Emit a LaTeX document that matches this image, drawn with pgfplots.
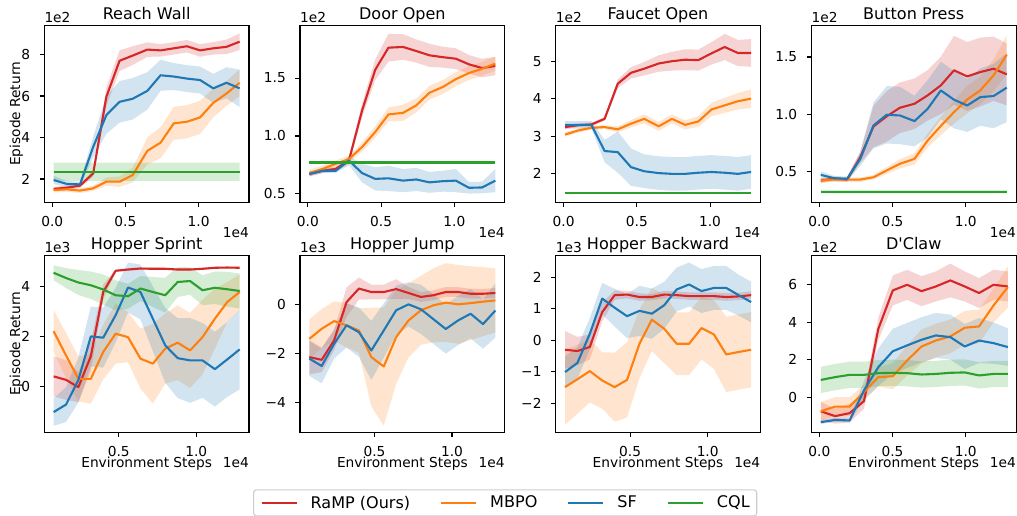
\documentclass[border=0pt]{standalone}
\usepackage{pgfplots}
\pgfplotsset{compat=1.18}
\usepackage{pgfplotstable}
\usepgfplotslibrary{fillbetween}
\usepackage{fontspec}
\setmainfont{DejaVu Sans}
\definecolor{tred}{HTML}{D62728}
\definecolor{torange}{HTML}{FF7F0E}
\definecolor{tblue}{HTML}{1F77B4}
\definecolor{tgreen}{HTML}{2CA02C}
\newcommand{\tickfont}{\fontsize{13.8}{16}\selectfont}
\newcommand{\titlefont}{\fontsize{16.1}{19}\selectfont}
\newcommand{\legfont}{\fontsize{16.1}{19}\selectfont}

\pgfplotstableread{
x r rs o os b bs g gs
0.01 1.52 0.10 1.47 0.12 1.95 0.20 2.35 0.44
0.10 1.58 0.10 1.50 0.12 1.76 0.15 2.35 0.44
0.19 1.68 0.10 1.44 0.12 1.74 0.12 2.35 0.44
0.28 2.27 0.15 1.55 0.12 3.55 0.50 2.35 0.44
0.37 5.97 0.45 1.87 0.20 5.08 0.90 2.35 0.44
0.46 7.70 0.50 1.87 0.25 5.72 1.00 2.35 0.44
0.55 7.95 0.45 2.19 0.35 5.87 1.00 2.35 0.44
0.65 8.24 0.35 3.36 0.65 6.25 0.90 2.35 0.44
0.74 8.20 0.30 3.75 0.75 7.00 0.75 2.35 0.44
0.83 8.30 0.30 4.68 0.80 6.94 0.65 2.35 0.44
0.92 8.40 0.30 4.76 0.80 6.84 0.65 2.35 0.44
1.01 8.20 0.30 4.97 0.80 6.77 0.65 2.35 0.44
1.10 8.30 0.30 5.67 0.70 6.37 0.70 2.35 0.44
1.19 8.37 0.35 6.12 0.60 6.64 0.75 2.35 0.44
1.28 8.62 0.40 6.64 0.65 6.37 0.90 2.35 0.44
}\tRW

\pgfplotstableread{
x r rs o os b bs g gs
0.01 0.673 0.02 0.680 0.03 0.673 0.02 0.771 0.012
0.10 0.700 0.02 0.716 0.03 0.700 0.02 0.771 0.012
0.19 0.716 0.02 0.760 0.03 0.700 0.02 0.771 0.012
0.28 0.788 0.03 0.800 0.03 0.788 0.04 0.771 0.012
0.37 1.220 0.06 0.905 0.04 0.680 0.08 0.771 0.012
0.46 1.572 0.09 1.035 0.05 0.630 0.10 0.771 0.012
0.55 1.762 0.12 1.186 0.06 0.635 0.11 0.771 0.012
0.65 1.768 0.11 1.200 0.07 0.615 0.10 0.771 0.012
0.74 1.733 0.10 1.264 0.06 0.625 0.10 0.771 0.012
0.83 1.696 0.10 1.373 0.06 0.600 0.09 0.771 0.012
0.92 1.680 0.09 1.422 0.06 0.610 0.09 0.771 0.012
1.01 1.667 0.09 1.490 0.06 0.615 0.10 0.771 0.012
1.10 1.618 0.08 1.543 0.06 0.553 0.05 0.771 0.012
1.19 1.586 0.08 1.580 0.06 0.556 0.05 0.771 0.012
1.28 1.604 0.08 1.624 0.06 0.615 0.10 0.771 0.012
}\tDO

\pgfplotstableread{
x r rs o os b bs g gs
0.01 3.24 0.05 3.04 0.06 3.30 0.10 1.48 0.02
0.10 3.29 0.05 3.15 0.05 3.30 0.10 1.48 0.02
0.19 3.31 0.05 3.22 0.05 3.30 0.10 1.48 0.02
0.28 3.46 0.05 3.24 0.05 2.60 0.30 1.48 0.02
0.37 4.40 0.12 3.18 0.08 2.57 0.55 1.48 0.02
0.46 4.69 0.15 3.33 0.10 2.17 0.50 1.48 0.02
0.55 4.80 0.18 3.46 0.12 2.06 0.45 1.48 0.02
0.65 4.94 0.22 3.26 0.12 2.01 0.45 1.48 0.02
0.74 5.00 0.25 3.46 0.12 1.99 0.45 1.48 0.02
0.83 5.04 0.28 3.30 0.12 1.99 0.45 1.48 0.02
0.92 5.03 0.28 3.39 0.14 2.02 0.45 1.48 0.02
1.01 5.21 0.30 3.71 0.18 2.04 0.45 1.48 0.02
1.10 5.38 0.35 3.82 0.20 2.02 0.45 1.48 0.02
1.19 5.22 0.35 3.93 0.22 1.99 0.45 1.48 0.02
1.28 5.22 0.37 4.00 0.25 2.04 0.45 1.48 0.02
}\tFO

\pgfplotstableread{
x r rs o os b bs g gs
0.01 0.424 0.02 0.424 0.02 0.474 0.03 0.328 0.015
0.10 0.440 0.02 0.433 0.02 0.445 0.02 0.328 0.015
0.19 0.433 0.02 0.433 0.02 0.439 0.02 0.328 0.015
0.28 0.628 0.05 0.433 0.02 0.613 0.06 0.328 0.015
0.37 0.895 0.18 0.453 0.02 0.904 0.20 0.328 0.015
0.46 0.983 0.22 0.512 0.03 0.997 0.25 0.328 0.015
0.55 1.058 0.22 0.570 0.04 0.991 0.25 0.328 0.015
0.65 1.093 0.22 0.613 0.05 0.942 0.22 0.328 0.015
0.74 1.166 0.22 0.773 0.06 1.049 0.25 0.328 0.015
0.83 1.253 0.25 0.900 0.08 1.209 0.25 0.328 0.015
0.92 1.384 0.30 1.020 0.10 1.128 0.25 0.328 0.015
1.01 1.331 0.30 1.130 0.12 1.078 0.23 0.328 0.015
1.10 1.369 0.30 1.210 0.12 1.151 0.25 0.328 0.015
1.19 1.398 0.28 1.340 0.14 1.160 0.28 0.328 0.015
1.28 1.349 0.27 1.520 0.17 1.233 0.30 0.328 0.015
}\tBP

\pgfplotstableread{
x r rs o os b bs g gs
0.08 0.39 0.80 2.20 0.85 -1.04 0.55 4.54 0.30
0.16 0.25 0.80 1.23 0.90 -0.74 0.70 4.33 0.40
0.24 -0.04 0.60 0.29 0.90 0.25 0.90 4.15 0.50
0.32 1.20 0.60 0.29 1.00 1.99 1.20 4.04 0.55
0.40 3.77 0.30 1.37 1.10 1.94 1.20 3.87 0.60
0.48 4.62 0.05 2.10 1.20 2.84 1.10 3.64 0.60
0.56 4.67 0.05 1.96 1.00 3.95 1.00 3.60 0.50
0.64 4.71 0.05 1.10 1.20 3.77 1.10 3.91 0.50
0.72 4.70 0.04 0.90 1.60 2.70 1.30 3.77 0.60
0.80 4.70 0.04 1.50 1.40 1.63 1.50 3.64 0.70
0.88 4.67 0.04 1.74 1.50 1.12 1.60 4.17 0.60
0.96 4.67 0.04 1.43 1.50 1.03 1.70 4.21 0.55
1.04 4.70 0.04 1.96 1.50 1.03 1.50 3.84 0.60
1.12 4.74 0.04 2.70 1.20 0.68 1.50 3.94 0.65
1.20 4.75 0.04 3.37 0.80 1.07 1.50 3.88 0.70
1.28 4.74 0.04 3.77 0.70 1.47 1.60 3.81 0.70
}\tHS

\pgfplotstableread{
x r rs o os b bs
0.08 -2.14 0.70 -1.40 0.80 -2.20 0.70
0.16 -2.25 0.50 -0.99 0.80 -2.50 0.70
0.24 -1.46 0.40 -0.68 0.80 -1.60 0.60
0.32 0.09 0.60 -0.85 0.90 -0.85 0.90
0.40 0.64 0.45 -1.06 0.90 -1.13 1.00
0.48 0.50 0.30 -2.14 2.00 -1.87 1.20
0.56 0.50 0.30 -2.52 2.40 -1.06 1.10
0.64 0.62 0.40 -1.33 1.90 -0.24 1.00
0.72 0.46 0.25 -0.65 1.50 0.00 0.90
0.80 0.30 0.20 -0.24 1.40 -0.20 1.00
0.88 0.37 0.20 -0.04 1.50 -0.60 1.00
0.96 0.50 0.20 0.07 1.60 -1.00 1.00
1.04 0.50 0.20 0.00 1.60 -0.65 1.00
1.12 0.43 0.20 0.05 1.50 -0.38 1.00
1.20 0.43 0.20 0.11 1.40 -0.80 1.00
1.28 0.46 0.20 0.16 1.30 -0.25 1.10
}\tHJ

\pgfplotstableread{
x r rs o os b bs
0.08 -0.30 0.60 -1.49 1.20 -1.01 0.50
0.16 -0.34 0.45 -1.24 1.10 -0.72 0.50
0.24 -0.21 0.40 -0.98 1.00 0.21 0.50
0.32 0.90 0.30 -1.28 0.90 1.33 0.50
0.40 1.44 0.15 -1.49 1.10 1.04 0.60
0.48 1.46 0.12 -1.26 1.20 0.77 0.70
0.56 1.38 0.12 -0.11 1.10 0.94 0.80
0.64 1.38 0.10 0.66 1.00 0.85 0.80
0.72 1.46 0.12 0.37 1.10 1.12 0.75
0.80 1.44 0.12 -0.11 1.00 1.62 0.70
0.88 1.41 0.12 -0.11 1.00 1.78 0.70
0.96 1.41 0.12 0.39 1.00 1.57 0.70
1.04 1.41 0.12 0.19 1.10 1.67 0.70
1.12 1.38 0.12 -0.45 1.20 1.67 0.70
1.20 1.40 0.12 -0.37 1.20 1.44 0.65
1.28 1.44 0.12 -0.30 1.20 1.22 0.65
}\tHB

\pgfplotstableread{
x r rs o os b bs g gs
0.010 -0.75 0.50 -0.75 0.50 -1.33 0.10 0.92 0.70
0.108 -1.01 0.40 -0.50 0.50 -1.21 0.10 1.07 0.70
0.207 -0.85 0.50 -0.50 0.50 -1.24 0.10 1.19 0.70
0.305 -0.21 0.40 0.27 0.40 0.36 0.50 1.19 0.70
0.403 3.64 0.60 1.07 0.50 1.60 1.00 1.28 0.70
0.502 5.69 0.80 1.12 0.70 2.45 1.20 1.30 0.70
0.600 5.99 0.80 1.96 0.80 2.76 1.20 1.28 0.70
0.698 5.65 0.80 2.70 0.90 3.06 1.20 1.21 0.70
0.796 5.90 0.80 3.02 0.90 3.29 1.20 1.24 0.70
0.895 6.22 0.90 3.24 0.90 3.20 1.20 1.30 0.70
0.993 5.90 0.80 3.70 0.90 2.70 1.20 1.32 0.70
1.091 5.55 0.80 3.77 0.90 3.02 1.20 1.16 0.70
1.190 5.99 0.80 4.89 0.90 2.88 1.10 1.24 0.70
1.288 5.90 0.80 5.87 1.10 2.67 1.00 1.24 0.70
}\tDC

\newcommand{\series}[4]{%
  \addplot[draw=none, forget plot, name path=#2up] table[x=x, y expr={\thisrow{#2}+\thisrow{#3}}] {#1};
  \addplot[draw=none, forget plot, name path=#2lo] table[x=x, y expr={\thisrow{#2}-\thisrow{#3}}] {#1};
  \addplot[fill=#4, fill opacity=0.2, draw=none, forget plot] fill between[of=#2up and #2lo];
  \addplot[#4, line width=2.1bp, line join=round, forget plot] table[x=x, y=#2] {#1};
}

\pgfplotsset{
  rax/.style={
    scale only axis, width=204.7bp, height=177bp, anchor=south west,
    axis line style={line width=1.07bp, black},
    tick align=outside, tick pos=left,
    major tick length=4.67bp,
    every tick/.append style={black, line width=1.07bp},
    ticklabel style={font=\tickfont, inner sep=0pt},
    xticklabel style={yshift=-9.33bp},
    yticklabel style={xshift=-9.33bp},
    clip mode=individual,
  },
  toprow/.style={xmin=-0.054, xmax=1.344, xtick={0,0.5,1}, xticklabels={0.0,0.5,1.0}},
  hoprow/.style={xmin=0.02, xmax=1.34, xtick={0.5,1}, xticklabels={0.5,1.0}},
}
\tikzset{
  ttl/.style={anchor=base, yshift=6bp, inner sep=0pt, font=\titlefont},
  off/.style={anchor=base west, yshift=3bp, inner sep=0pt, font=\tickfont},
  xoff/.style={anchor=base east, yshift=-35.7bp, inner sep=0pt, font=\tickfont},
  xlab/.style={anchor=base, yshift=-35.7bp, inner sep=0pt, font=\tickfont},
  ylab/.style={xshift=-24.3bp, rotate=90, anchor=base, inner sep=0pt, font=\tickfont},
}

\begin{document}
\begin{tikzpicture}

% ---------- Reach Wall
\begin{axis}[rax, toprow, at={(44.3bp,313.7bp)}, ymin=0.876, ymax=9.41,
  ytick={2,4,6,8}, yticklabels={2,4,6,8}]
\series{\tRW}{r}{rs}{tred}
\series{\tRW}{o}{os}{torange}
\series{\tRW}{b}{bs}{tblue}
\series{\tRW}{g}{gs}{tgreen}
\node[ttl] at (rel axis cs:0.5,1) {Reach Wall};
\node[off] at (rel axis cs:0,1) {1e2};
\node[xoff] at (rel axis cs:1,0) {1e4};
\node[ylab] at (rel axis cs:0,0.5) {Episode Return};
\end{axis}

% ---------- Door Open
\begin{axis}[rax, toprow, at={(300bp,313.7bp)}, ymin=0.428, ymax=1.955,
  ytick={0.5,1,1.5}, yticklabels={0.5,1.0,1.5}]
\series{\tDO}{r}{rs}{tred}
\series{\tDO}{o}{os}{torange}
\series{\tDO}{b}{bs}{tblue}
\series{\tDO}{g}{gs}{tgreen}
\node[ttl] at (rel axis cs:0.5,1) {Door Open};
\node[off] at (rel axis cs:0,1) {1e2};
\node[xoff] at (rel axis cs:1,0) {1e4};
\end{axis}

% ---------- Faucet Open
\begin{axis}[rax, toprow, at={(555.7bp,313.7bp)}, ymin=1.23, ymax=5.96,
  ytick={2,3,4,5}, yticklabels={2,3,4,5}]
\series{\tFO}{r}{rs}{tred}
\series{\tFO}{o}{os}{torange}
\series{\tFO}{b}{bs}{tblue}
\series{\tFO}{g}{gs}{tgreen}
\node[ttl] at (rel axis cs:0.5,1) {Faucet Open};
\node[off] at (rel axis cs:0,1) {1e2};
\node[xoff] at (rel axis cs:1,0) {1e4};
\end{axis}

% ---------- Button Press
\begin{axis}[rax, toprow, at={(811.4bp,313.7bp)}, ymin=0.235, ymax=1.776,
  ytick={0.5,1,1.5}, yticklabels={0.5,1.0,1.5}]
\series{\tBP}{r}{rs}{tred}
\series{\tBP}{o}{os}{torange}
\series{\tBP}{b}{bs}{tblue}
\series{\tBP}{g}{gs}{tgreen}
\node[ttl] at (rel axis cs:0.5,1) {Button Press};
\node[off] at (rel axis cs:0,1) {1e2};
\node[xoff] at (rel axis cs:1,0) {1e4};
\end{axis}

% ---------- Hopper Sprint (with legend)
\begin{axis}[rax, hoprow, at={(44.3bp,83.7bp)}, ymin=-1.85, ymax=5.24,
  ytick={0,2,4}, yticklabels={0,2,4},
  legend columns=4,
  legend image code/.code={\draw[#1] (0bp,0bp) -- (35bp,0bp);},
  legend style={at={(1.0196,-0.322)}, anchor=north west, font=\legfont,
    draw=black!20, line width=1.07bp, rounded corners=3bp,
    inner xsep=7bp, inner ysep=6bp,
    nodes={inner sep=0pt, text depth=0.2em},
    /tikz/every odd column/.append style={column sep=13bp},
    /tikz/every even column/.append style={column sep=30bp}},
  ]
\series{\tHS}{r}{rs}{tred}
\series{\tHS}{o}{os}{torange}
\series{\tHS}{b}{bs}{tblue}
\series{\tHS}{g}{gs}{tgreen}
\addlegendimage{tred, line width=2.1bp}
\addlegendentry{RaMP (Ours)}
\addlegendimage{torange, line width=2.1bp}
\addlegendentry{MBPO}
\addlegendimage{tblue, line width=2.1bp}
\addlegendentry{SF}
\addlegendimage{tgreen, line width=2.1bp}
\addlegendentry{CQL}
\node[ttl] at (rel axis cs:0.5,1) {Hopper Sprint};
\node[off] at (rel axis cs:0,1) {1e3};
\node[xoff] at (rel axis cs:1,0) {1e4};
\node[xlab] at (rel axis cs:0.5,0) {Environment Steps};
\node[ylab] at (rel axis cs:0,0.5) {Episode Return};
\end{axis}

% ---------- Hopper Jump
\begin{axis}[rax, hoprow, at={(300bp,83.7bp)}, ymin=-5.19, ymax=1.99,
  ytick={-4,-2,0}, yticklabels={−4,−2,0}]
\series{\tHJ}{r}{rs}{tred}
\series{\tHJ}{o}{os}{torange}
\series{\tHJ}{b}{bs}{tblue}
\node[ttl] at (rel axis cs:0.5,1) {Hopper Jump};
\node[off] at (rel axis cs:0,1) {1e3};
\node[xoff] at (rel axis cs:1,0) {1e4};
\node[xlab] at (rel axis cs:0.5,0) {Environment Steps};
\end{axis}

% ---------- Hopper Backward
\begin{axis}[rax, hoprow, at={(555.7bp,83.7bp)}, ymin=-2.93, ymax=2.71,
  ytick={-2,-1,0,1,2}, yticklabels={−2,−1,0,1,2}]
\series{\tHB}{r}{rs}{tred}
\series{\tHB}{o}{os}{torange}
\series{\tHB}{b}{bs}{tblue}
\node[ttl] at (rel axis cs:0.5,1) {Hopper Backward};
\node[off] at (rel axis cs:0,1) {1e3};
\node[xoff] at (rel axis cs:1,0) {1e4};
\node[xlab] at (rel axis cs:0.5,0) {Environment Steps};
\end{axis}

% ---------- D'Claw
\begin{axis}[rax, toprow, at={(811.4bp,83.7bp)}, ymin=-1.87, ymax=7.56,
  ytick={0,2,4,6}, yticklabels={0,2,4,6}]
\series{\tDC}{r}{rs}{tred}
\series{\tDC}{o}{os}{torange}
\series{\tDC}{b}{bs}{tblue}
\series{\tDC}{g}{gs}{tgreen}
\node[ttl] at (rel axis cs:0.5,1) {D\textquotesingle Claw};
\node[off] at (rel axis cs:0,1) {1e2};
\node[xoff] at (rel axis cs:1,0) {1e4};
\node[xlab] at (rel axis cs:0.5,0) {Environment Steps};
\end{axis}

\pgfresetboundingbox
\useasboundingbox (0bp,0bp) rectangle (1017bp,516bp);
\end{tikzpicture}
\end{document}
